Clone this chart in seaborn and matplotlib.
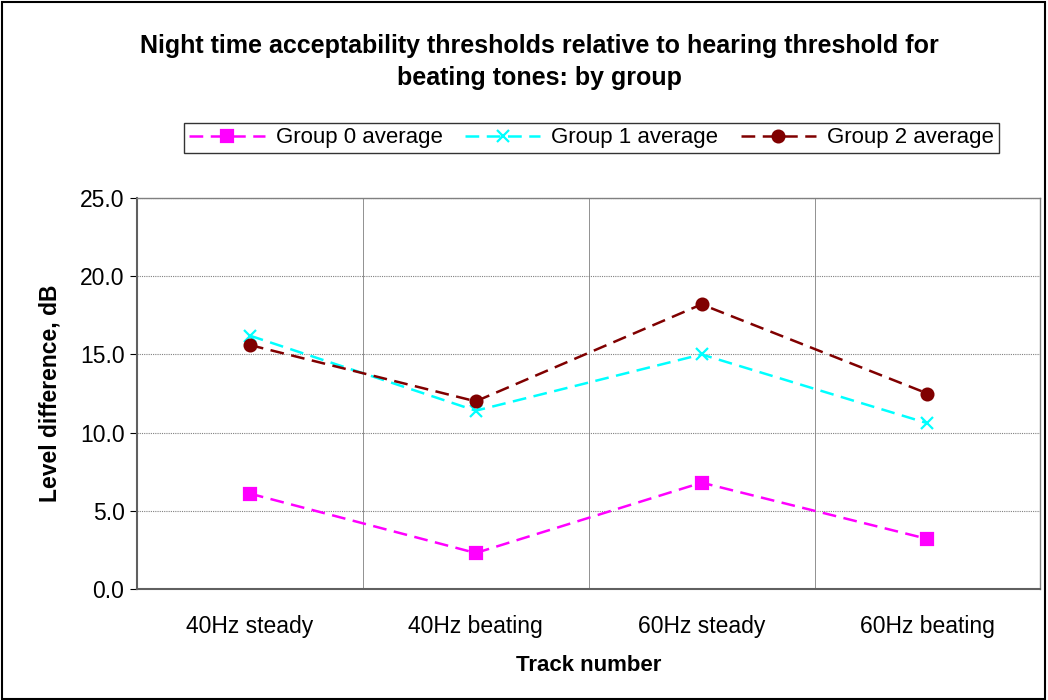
import matplotlib
matplotlib.use("Agg")
import matplotlib.pyplot as plt
import pandas as pd
import seaborn as sns

tracks = ["40Hz steady", "40Hz beating", "60Hz steady", "60Hz beating"]
group0 = [6.1, 2.3, 6.8, 3.2]
group1 = [16.2, 11.4, 15.0, 10.6]
group2 = [15.6, 12.0, 18.2, 12.5]
groups = ["Group 0 average", "Group 1 average", "Group 2 average"]
colors = ["#FF00FF", "#00FFFF", "#800000"]
markers = ["s", "x", "o"]

sns.set_style("white")
plt.rcParams["font.family"] = ["Liberation Sans", "DejaVu Sans"]
plt.rcParams.update({"text.color": "black", "axes.labelcolor": "black",
                     "xtick.color": "black", "ytick.color": "black"})

fig = plt.figure(figsize=(10.48, 7), dpi=100)
ax = fig.add_axes([0.1307, 0.1586, 0.862, 0.5585])

for name, vals, col, mk in zip(groups, [group0, group1, group2], colors, markers):
    d = pd.DataFrame({"pos": range(len(tracks)), "value": vals})
    sns.lineplot(data=d, x="pos", y="value", color=col, marker=mk, sort=False,
                 linewidth=1.8, markersize=8.5, markeredgewidth=1.6, markeredgecolor=col,
                 label=name, ax=ax, legend=False)
    ax.lines[-1].set_dashes((5.5, 3))

ax.set_xlim(-0.5, len(tracks) - 0.5)
ax.set_ylim(0, 25)
ax.set_yticks([0, 5, 10, 15, 20, 25])
ax.set_yticklabels([f"{v:.1f}" for v in [0, 5, 10, 15, 20, 25]], fontsize=16.5)
ax.set_xticks(range(len(tracks)))
ax.set_xticklabels(tracks, fontsize=16.5)
ax.tick_params(axis="x", length=0, pad=19)
ax.set_xticks([i + 0.5 for i in range(-1, len(tracks))], minor=True)
ax.tick_params(axis="x", which="minor", length=5, direction="out", color="black")
ax.tick_params(axis="y", length=5, direction="out", left=True, color="black", pad=4)
ax.grid(True, axis="y", color="#808080", linestyle=(0, (1, 1)), linewidth=0.8)
ax.grid(True, axis="x", which="minor", color="#808080", linestyle="-", linewidth=0.6)
ax.grid(False, axis="x", which="major")
for side in ["top", "right"]:
    ax.spines[side].set_color("#808080")
    ax.spines[side].set_linewidth(1)
for side in ["left", "bottom"]:
    ax.spines[side].set_color("#606060")
    ax.spines[side].set_linewidth(1.5)

ax.set_xlabel("Track number", fontsize=16, fontweight="bold", labelpad=12)
ax.set_ylabel("Level difference, dB", fontsize=16.5, fontweight="bold", labelpad=13)

fig.suptitle("Night time acceptability thresholds relative to hearing threshold for\nbeating tones: by group",
             x=0.515, y=0.951, fontsize=18, fontweight="bold", linespacing=1.43)

handles = ax.lines[:3]
leg = fig.legend(handles, groups, loc="center", bbox_to_anchor=(0.5645, 0.803), ncol=3,
                 fontsize=16, frameon=True, fancybox=False, edgecolor="black",
                 handlelength=3.4, columnspacing=1.0, handletextpad=0.5,
                 borderpad=0.22)
leg.get_frame().set_linewidth(1)

fig.patches.append(plt.Rectangle((0.002, 0.002), 0.995, 0.995, transform=fig.transFigure,
                                 fill=False, edgecolor="black", linewidth=1.5))

fig.savefig("out.png", dpi=100)
